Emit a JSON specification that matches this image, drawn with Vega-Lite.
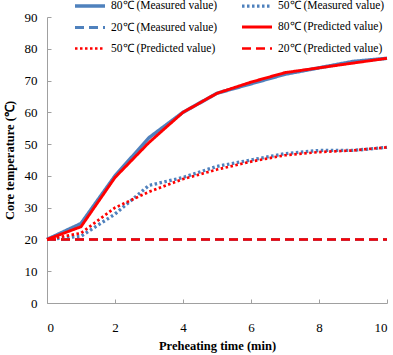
{
  "$schema": "https://vega.github.io/schema/vega-lite/v6.json",
  "autosize": {"type": "none"},
  "width": 340,
  "height": 286,
  "padding": {"left": 47, "top": 17, "right": 6, "bottom": 52},
  "background": "white",
  "config": {
    "view": {"stroke": null},
    "font": "Liberation Serif",
    "axis": {
      "grid": false,
      "domainColor": "#a0a0a0",
      "tickColor": "#a0a0a0",
      "tickSize": -4,
      "labelFont": "Liberation Serif",
      "labelFontSize": 13,
      "labelColor": "#000000",
      "titleFont": "Liberation Serif",
      "titleFontSize": 12.5,
      "titleFontWeight": "bold",
      "titleColor": "#000000"
    },
    "legend": {
      "labelFont": "Liberation Serif",
      "labelFontSize": 11.5,
      "labelColor": "#000000"
    }
  },
  "data": {
    "values": [
      {"time": 0, "temp": 20, "series": "80℃ (Measured value)", "kind": "Measured"},
      {"time": 1, "temp": 25, "series": "80℃ (Measured value)", "kind": "Measured"},
      {"time": 2, "temp": 40, "series": "80℃ (Measured value)", "kind": "Measured"},
      {"time": 3, "temp": 52, "series": "80℃ (Measured value)", "kind": "Measured"},
      {"time": 4, "temp": 60, "series": "80℃ (Measured value)", "kind": "Measured"},
      {"time": 5, "temp": 66, "series": "80℃ (Measured value)", "kind": "Measured"},
      {"time": 6, "temp": 69, "series": "80℃ (Measured value)", "kind": "Measured"},
      {"time": 7, "temp": 72, "series": "80℃ (Measured value)", "kind": "Measured"},
      {"time": 8, "temp": 74, "series": "80℃ (Measured value)", "kind": "Measured"},
      {"time": 9, "temp": 76, "series": "80℃ (Measured value)", "kind": "Measured"},
      {"time": 10, "temp": 77, "series": "80℃ (Measured value)", "kind": "Measured"},

      {"time": 0, "temp": 20, "series": "50℃ (Measured value)", "kind": "Measured"},
      {"time": 1, "temp": 21, "series": "50℃ (Measured value)", "kind": "Measured"},
      {"time": 2, "temp": 28, "series": "50℃ (Measured value)", "kind": "Measured"},
      {"time": 3, "temp": 37, "series": "50℃ (Measured value)", "kind": "Measured"},
      {"time": 4, "temp": 39.5, "series": "50℃ (Measured value)", "kind": "Measured"},
      {"time": 5, "temp": 43, "series": "50℃ (Measured value)", "kind": "Measured"},
      {"time": 6, "temp": 45, "series": "50℃ (Measured value)", "kind": "Measured"},
      {"time": 7, "temp": 47, "series": "50℃ (Measured value)", "kind": "Measured"},
      {"time": 8, "temp": 48, "series": "50℃ (Measured value)", "kind": "Measured"},
      {"time": 9, "temp": 48, "series": "50℃ (Measured value)", "kind": "Measured"},
      {"time": 10, "temp": 49, "series": "50℃ (Measured value)", "kind": "Measured"},

      {"time": 0, "temp": 20, "series": "20℃ (Measured value)", "kind": "Measured"},
      {"time": 10, "temp": 20, "series": "20℃ (Measured value)", "kind": "Measured"},

      {"time": 0, "temp": 20, "series": "80℃ (Predicted value)", "kind": "Predicted"},
      {"time": 1, "temp": 24, "series": "80℃ (Predicted value)", "kind": "Predicted"},
      {"time": 2, "temp": 39.5, "series": "80℃ (Predicted value)", "kind": "Predicted"},
      {"time": 3, "temp": 50.5, "series": "80℃ (Predicted value)", "kind": "Predicted"},
      {"time": 4, "temp": 60, "series": "80℃ (Predicted value)", "kind": "Predicted"},
      {"time": 5, "temp": 66, "series": "80℃ (Predicted value)", "kind": "Predicted"},
      {"time": 6, "temp": 69.5, "series": "80℃ (Predicted value)", "kind": "Predicted"},
      {"time": 7, "temp": 72.5, "series": "80℃ (Predicted value)", "kind": "Predicted"},
      {"time": 8, "temp": 74, "series": "80℃ (Predicted value)", "kind": "Predicted"},
      {"time": 9, "temp": 75.5, "series": "80℃ (Predicted value)", "kind": "Predicted"},
      {"time": 10, "temp": 77, "series": "80℃ (Predicted value)", "kind": "Predicted"},

      {"time": 0, "temp": 20, "series": "50℃ (Predicted value)", "kind": "Predicted"},
      {"time": 1, "temp": 22, "series": "50℃ (Predicted value)", "kind": "Predicted"},
      {"time": 2, "temp": 30, "series": "50℃ (Predicted value)", "kind": "Predicted"},
      {"time": 3, "temp": 35, "series": "50℃ (Predicted value)", "kind": "Predicted"},
      {"time": 4, "temp": 39, "series": "50℃ (Predicted value)", "kind": "Predicted"},
      {"time": 5, "temp": 42, "series": "50℃ (Predicted value)", "kind": "Predicted"},
      {"time": 6, "temp": 44.5, "series": "50℃ (Predicted value)", "kind": "Predicted"},
      {"time": 7, "temp": 46.5, "series": "50℃ (Predicted value)", "kind": "Predicted"},
      {"time": 8, "temp": 47.5, "series": "50℃ (Predicted value)", "kind": "Predicted"},
      {"time": 9, "temp": 48, "series": "50℃ (Predicted value)", "kind": "Predicted"},
      {"time": 10, "temp": 49, "series": "50℃ (Predicted value)", "kind": "Predicted"},

      {"time": 0, "temp": 20, "series": "20℃ (Predicted value)", "kind": "Predicted"},
      {"time": 10, "temp": 20, "series": "20℃ (Predicted value)", "kind": "Predicted"}
    ]
  },
  "encoding": {
    "x": {
      "field": "time",
      "type": "quantitative",
      "scale": {"domain": [0, 10], "nice": false},
      "axis": {
        "title": "Preheating time (min)",
        "values": [0, 2, 4, 6, 8, 10],
        "format": "d",
        "labelPadding": 22,
        "titlePadding": 5
      }
    },
    "y": {
      "field": "temp",
      "type": "quantitative",
      "scale": {"domain": [0, 90], "nice": false},
      "axis": {
        "title": "Core temperature (℃)",
        "values": [0, 10, 20, 30, 40, 50, 60, 70, 80, 90],
        "labelPadding": 14,
        "titlePadding": 8
      }
    },
    "color": {
      "field": "series",
      "type": "nominal",
      "scale": {
        "domain": ["80℃ (Measured value)", "50℃ (Measured value)", "20℃ (Measured value)", "80℃ (Predicted value)", "50℃ (Predicted value)", "20℃ (Predicted value)"],
        "range": ["#4f81bd", "#4f81bd", "#4f81bd", "#ff0000", "#ff0000", "#ff0000"]
      },
      "legend": {
        "title": null,
        "orient": "none",
        "direction": "horizontal",
        "legendX": 26,
        "legendY": -19,
        "columns": 2,
        "columnPadding": 17,
        "rowPadding": 6.5,
        "symbolType": "M-1,0L4,0",
        "symbolSize": 144,
        "symbolStrokeWidth": 2.5,
        "labelOffset": 22
      }
    },
    "strokeDash": {
      "field": "series",
      "type": "nominal",
      "scale": {
        "domain": ["80℃ (Measured value)", "50℃ (Measured value)", "20℃ (Measured value)", "80℃ (Predicted value)", "50℃ (Predicted value)", "20℃ (Predicted value)"],
        "range": [[1, 0], [2.5, 2.5], [9, 5], [1, 0], [2.5, 2.5], [9, 5]]
      }
    },
    "strokeWidth": {
      "field": "series",
      "type": "nominal",
      "scale": {
        "domain": ["80℃ (Measured value)", "50℃ (Measured value)", "20℃ (Measured value)", "80℃ (Predicted value)", "50℃ (Predicted value)", "20℃ (Predicted value)"],
        "range": [3.5, 2.5, 3, 3, 2.5, 3]
      },
      "legend": null
    }
  },
  "layer": [
    {
      "transform": [{"filter": "datum.kind === 'Measured'"}],
      "mark": {"type": "line"}
    },
    {
      "transform": [{"filter": "datum.kind === 'Predicted'"}],
      "mark": {"type": "line"}
    }
  ]
}
